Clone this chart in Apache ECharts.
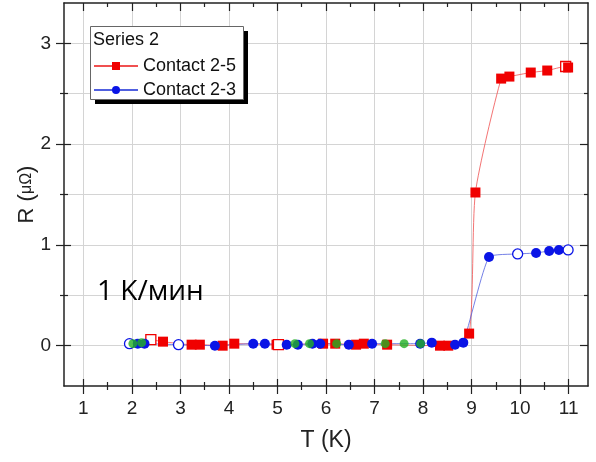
<!DOCTYPE html>
<html>
<head>
<meta charset="utf-8">
<script src="https://cdn.jsdelivr.net/npm/echarts@6/dist/echarts.min.js"></script>
<style>
  html, body { margin: 0; padding: 0; background: #fff; }
  #chart { width: 596px; height: 462px; }
</style>
</head>
<body>
<div id="chart"></div>
<script>
// Contact 2-5 (red squares), 1 = open marker
const tRed = [2.39, 2.64, 3.23, 3.40, 3.87, 4.11, 4.98, 5.02, 5.94, 6.19, 6.62, 6.78, 7.26, 8.35, 8.52, 8.95, 9.08, 9.61, 9.78, 10.22, 10.56, 10.94, 10.99]
const rRed = [0.06, 0.04, 0.01, 0.01, 0.00, 0.02, 0.01, 0.01, 0.02, 0.02, 0.01, 0.02, 0.01, 0.00, 0.00, 0.12, 1.52, 2.65, 2.67, 2.71, 2.73, 2.77, 2.76]
const openRed = [1, 0, 0, 0, 0, 0, 0, 1, 0, 0, 0, 0, 0, 0, 0, 0, 0, 0, 0, 0, 0, 1, 0]

// Contact 2-3 (blue circles)
const tBlue = [1.95, 2.12, 2.26, 2.96, 3.71, 4.50, 4.74, 5.19, 5.42, 5.72, 5.88, 6.47, 6.95, 7.94, 8.18, 8.66, 8.83, 9.36, 9.95, 10.33, 10.60, 10.80, 10.99]
const rBlue = [0.02, 0.02, 0.02, 0.01, 0.00, 0.02, 0.02, 0.01, 0.01, 0.02, 0.02, 0.01, 0.02, 0.02, 0.03, 0.01, 0.03, 0.88, 0.91, 0.92, 0.94, 0.95, 0.95]
const openBlue = [1, 0, 0, 1, 0, 0, 0, 0, 0, 0, 0, 0, 0, 0, 0, 0, 0, 0, 1, 0, 0, 0, 1]

// third run (green circles, not in legend)
const tGreen = [2.02, 2.20, 5.36, 5.66, 6.22, 7.22, 7.61, 7.95]
const rGreen = [0.02, 0.03, 0.02, 0.02, 0.02, 0.02, 0.02, 0.02]

const xTicks = [1, 2, 3, 4, 5, 6, 7, 8, 9, 10, 11]
const xMinor = [1.5, 2.5, 3.5, 4.5, 5.5, 6.5, 7.5, 8.5, 9.5, 10.5]
const yTicks = [0, 1, 2, 3]
const yMinor = [0.5, 1.5, 2.5]

const AXIS_COLOR = '#222'
const GRID_COLOR = '#d4d4d4'

function points(t, r, open, color) {
  return t.map((x, i) =>
    open && open[i]
      ? { value: [x, r[i]], itemStyle: { color: '#fff', borderColor: color, borderWidth: 1.3 } }
      : [x, r[i]]
  )
}

// one axis = one set of ticks; the box edges need ticks going both ways
function xAx(pos, ticks, len, inside, extra) {
  return Object.assign({
    type: 'value', position: pos, min: 0.6, max: 11.4,
    axisLine: { show: false, onZero: false },
    axisTick: { show: true, inside: inside, length: len, customValues: ticks, lineStyle: { color: AXIS_COLOR, width: 1.2 } },
    axisLabel: { show: false },
    splitLine: { show: false }
  }, extra || {})
}
function yAx(pos, ticks, len, inside, extra) {
  return Object.assign({
    type: 'value', position: pos, min: -0.4, max: 3.4,
    axisLine: { show: false, onZero: false },
    axisTick: { show: true, inside: inside, length: len, customValues: ticks, lineStyle: { color: AXIS_COLOR, width: 1.2 } },
    axisLabel: { show: false },
    splitLine: { show: false }
  }, extra || {})
}

const chart = echarts.init(document.getElementById('chart'))

const option = {
  animation: false,
  backgroundColor: '#fff',
  textStyle: { fontFamily: 'Liberation Sans' },
  grid: { left: 64, right: 8, top: 3, bottom: 76, containLabel: false },
  xAxis: [
    xAx('bottom', xTicks, 8, false, {
      axisLine: { show: true, onZero: false, lineStyle: { color: AXIS_COLOR, width: 1.5 } },
      axisLabel: { show: true, customValues: xTicks, margin: 13, fontSize: 19, color: AXIS_COLOR },
      splitLine: { show: true, lineStyle: { color: GRID_COLOR, width: 1 } },
      name: 'T (K)', nameLocation: 'middle', nameGap: 43, nameMoveOverlap: false,
      nameTextStyle: { fontSize: 23, color: AXIS_COLOR }
    }),
    xAx('bottom', xTicks, 7, true),
    xAx('bottom', xMinor, 4, false),
    xAx('bottom', xMinor, 4, true),
    xAx('top', xTicks, 8, true, {
      axisLine: { show: true, onZero: false, lineStyle: { color: AXIS_COLOR, width: 1.5 } }
    }),
    xAx('top', xMinor, 4, true)
  ],
  yAxis: [
    yAx('left', yTicks, 8, false, {
      axisLine: { show: true, onZero: false, lineStyle: { color: AXIS_COLOR, width: 1.5 } },
      axisLabel: { show: true, customValues: yTicks, margin: 13, fontSize: 19, color: AXIS_COLOR },
      splitLine: { show: true, lineStyle: { color: GRID_COLOR, width: 1 } },
      name: '{a|R (}{b|μΩ}{a|)}', nameLocation: 'middle', nameGap: 26, nameMoveOverlap: false,
      nameTextStyle: {
        color: AXIS_COLOR,
        rich: { a: { fontSize: 22, color: AXIS_COLOR }, b: { fontSize: 16, color: AXIS_COLOR } }
      }
    }),
    yAx('left', yTicks, 7, true),
    yAx('left', yMinor, 4, false, {
      splitLine: { show: true, lineStyle: { color: GRID_COLOR, width: 1 } }
    }),
    yAx('left', yMinor, 4, true),
    yAx('right', yTicks, 8, true, {
      axisLine: { show: true, onZero: false, lineStyle: { color: AXIS_COLOR, width: 1.5 } }
    }),
    yAx('right', yMinor, 4, true)
  ],
  legend: {
    data: ['Contact 2-5', 'Contact 2-3'],
    orient: 'vertical',
    left: 88,
    top: 52,
    itemWidth: 44,
    itemHeight: 10,
    itemGap: 6,
    z: 6,
    textStyle: { fontSize: 18, color: '#111', fontFamily: 'Liberation Sans' }
  },
  graphic: [
    {
      type: 'rect', left: 95, top: 31, z: 5,
      shape: { width: 153, height: 73 },
      style: { fill: '#000' }
    },
    {
      type: 'rect', left: 90, top: 26, z: 5,
      shape: { width: 153, height: 73 },
      style: { fill: '#fff', stroke: '#666', lineWidth: 1 }
    },
    {
      type: 'text', left: 93, top: 31, z: 7,
      style: { text: 'Series 2', fontSize: 18, fill: '#111', fontFamily: 'Liberation Sans' }
    },
    {
      type: 'text', left: 97, top: 278, z: 7,
      style: { text: '1 K/мин', fontSize: 28, fill: '#000', fontFamily: 'Open Sans' }
    }
  ],
  series: [
    {
      name: 'Contact 2-5',
      type: 'line',
      data: points(tRed, rRed, openRed, '#f00000'),
      color: '#f00000',
      symbol: 'rect',
      symbolSize: 10,
      smooth: 0.2,
      lineStyle: { width: 0.8, color: '#f05050' },
      z: 3
    },
    {
      name: 'Contact 2-3',
      type: 'line',
      data: points(tBlue, rBlue, openBlue, '#0a14e6'),
      color: '#0a14e6',
      symbol: 'circle',
      symbolSize: 10,
      smooth: 0.15,
      lineStyle: { width: 0.8, color: '#5060e0' },
      z: 3
    },
    {
      name: 'run 3',
      type: 'scatter',
      data: points(tGreen, rGreen, null, '#22b022'),
      color: '#22b022',
      symbol: 'circle',
      symbolSize: 9,
      z: 4
    }
  ]
}

chart.setOption(option)
</script>
</body>
</html>
